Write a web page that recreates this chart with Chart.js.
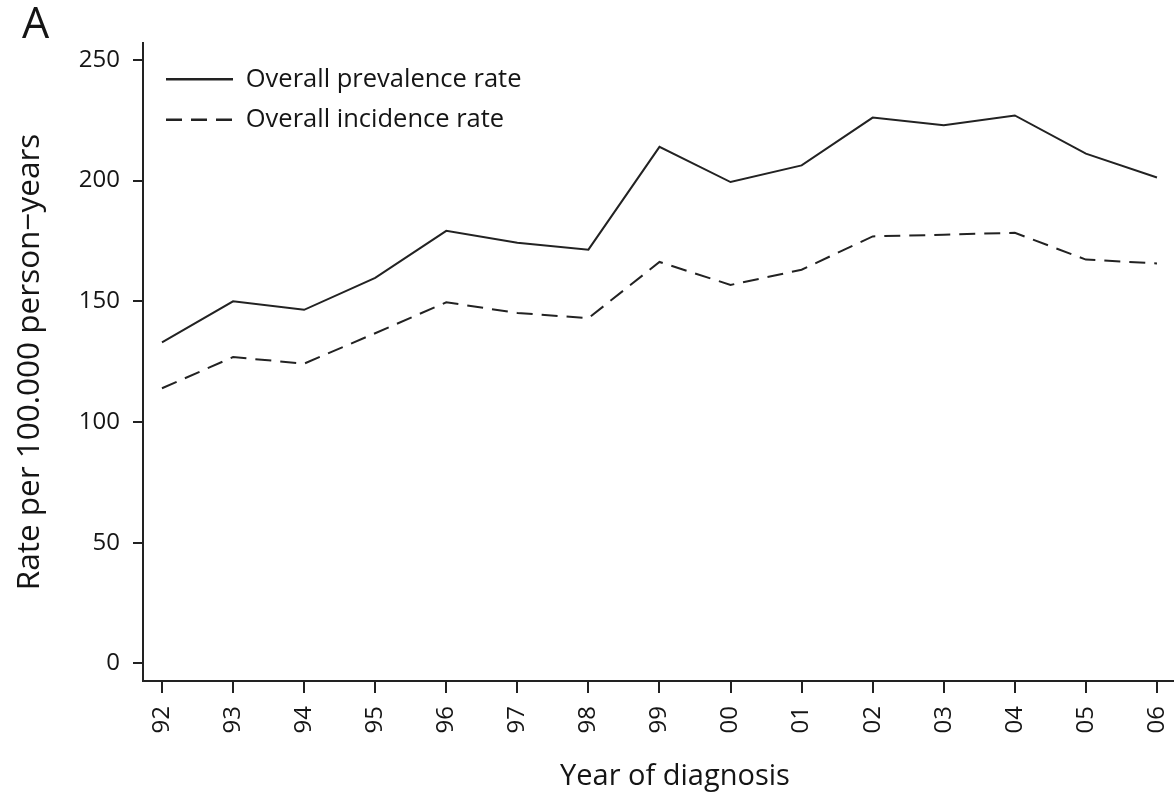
<!DOCTYPE html>
<html>
<head>
<meta charset="utf-8">
<script src="https://cdn.jsdelivr.net/npm/chart.js@4/dist/chart.umd.min.js"></script>
<style>
    html, body { margin: 0; padding: 0; background: #fff; overflow: hidden; }
    #grafico { display: block; }
</style>
</head>
<body>
<canvas id="grafico" width="1207" height="801"></canvas>
<script>
// Anos do diagnóstico (eixo x)
const anos = ['92', '93', '94', '95', '96', '97', '98', '99', '00', '01', '02', '03', '04', '05', '06'];

// Taxas por 100.000 pessoas-ano
const prevalencia = [133.0, 150.0, 146.5, 159.7, 179.2, 174.3, 171.4, 214.0, 199.4, 206.3, 226.1, 222.9, 227.0, 211.2, 201.3];
const incidencia = [114.0, 126.9, 124.2, 136.8, 149.6, 145.2, 143.0, 166.3, 156.8, 163.1, 176.9, 177.6, 178.4, 167.3, 165.7];

// Marcas do eixo y
const ticksY = [0, 50, 100, 150, 200, 250];

const nomes = ['Overall prevalence rate', 'Overall incidence rate'];

const corTinta = '#222222';
const corTexto = '#151515';
const fonte = "'Open Sans', 'Noto Sans', sans-serif";

function pontos(valores) {
    return valores.map((v, i) => ({ x: i, y: v }));
}

// Empurra a legenda para dentro da área do gráfico
const ajusteLegenda = {
    id: 'ajusteLegenda',
    afterLayout(chart) {
        chart.legend.left += 8;
        chart.legend.top += 51.5;
    }
};

// Legenda com o traço (e o tracejado) de cada série
function gerarLegenda(chart) {
    const itens = Chart.defaults.plugins.legend.labels.generateLabels(chart);
    return itens.map(item => {
        const ds = chart.data.datasets[item.datasetIndex];
        item.lineDash = ds.borderDash || [];
        item.lineWidth = 2.6;
        item.strokeStyle = ds.borderColor;
        return item;
    });
}

const ctx = document.getElementById('grafico').getContext('2d');

new Chart(ctx, {
    type: 'line',
    data: {
        datasets: [
            {
                label: nomes[0],
                data: pontos(prevalencia),
                borderColor: corTinta,
                backgroundColor: corTinta,
                borderWidth: 2,
                pointRadius: 0,
                tension: 0,
                fill: false
            },
            {
                label: nomes[1],
                data: pontos(incidencia),
                borderColor: corTinta,
                backgroundColor: corTinta,
                borderWidth: 2,
                borderDash: [16, 9],
                pointRadius: 0,
                tension: 0,
                fill: false
            }
        ]
    },
    options: {
        responsive: false,
        animation: false,
        devicePixelRatio: 1,
        layout: { padding: { left: 22, top: 0, right: 0, bottom: 0 } },
        plugins: {
            title: {
                display: true,
                text: 'A',
                align: 'start',
                color: corTexto,
                font: { family: fonte, size: 43, weight: 'normal', lineHeight: 34 / 43 },
                padding: { top: 9, bottom: 0 }
            },
            legend: {
                position: 'chartArea',
                align: 'start',
                labels: {
                    usePointStyle: true,
                    pointStyle: 'line',
                    pointStyleWidth: 67,
                    padding: 15,
                    color: corTexto,
                    font: { family: fonte, size: 25.5 },
                    generateLabels: gerarLegenda
                }
            },
            tooltip: { enabled: false }
        },
        scales: {
            x: {
                type: 'linear',
                min: -0.267,
                max: 14.704,
                afterFit(scale) { scale.height = 120; },
                border: { display: true, color: corTinta, width: 2 },
                grid: { drawOnChartArea: false, drawTicks: true, tickLength: 12, color: corTinta, lineWidth: 2 },
                ticks: {
                    stepSize: 1,
                    includeBounds: false,
                    autoSkip: false,
                    minRotation: 90,
                    maxRotation: 90,
                    padding: 13,
                    color: corTexto,
                    font: { family: fonte, size: 24 },
                    callback: (v) => anos[v] !== undefined ? anos[v] : ''
                },
                title: {
                    display: true,
                    text: 'Year of diagnosis',
                    color: corTexto,
                    font: { family: fonte, size: 29, lineHeight: 1 },
                    padding: { top: 0, bottom: 10 }
                }
            },
            y: {
                type: 'linear',
                min: -7.25,
                max: 257.0,
                afterFit(scale) { scale.width = 121; },
                afterBuildTicks(scale) { scale.ticks = ticksY.map(v => ({ value: v })); },
                border: { display: true, color: corTinta, width: 2 },
                grid: { drawOnChartArea: false, drawTicks: true, tickLength: 10, color: corTinta, lineWidth: 2 },
                ticks: {
                    padding: 13,
                    color: corTexto,
                    font: { family: fonte, size: 24 }
                },
                title: {
                    display: true,
                    text: 'Rate per 100.000 person\u2212years',
                    color: corTexto,
                    font: { family: fonte, size: 31.5, lineHeight: 1 },
                    padding: { top: -8, bottom: 0 }
                }
            }
        }
    },
    plugins: [ajusteLegenda]
});
</script>
</body>
</html>
